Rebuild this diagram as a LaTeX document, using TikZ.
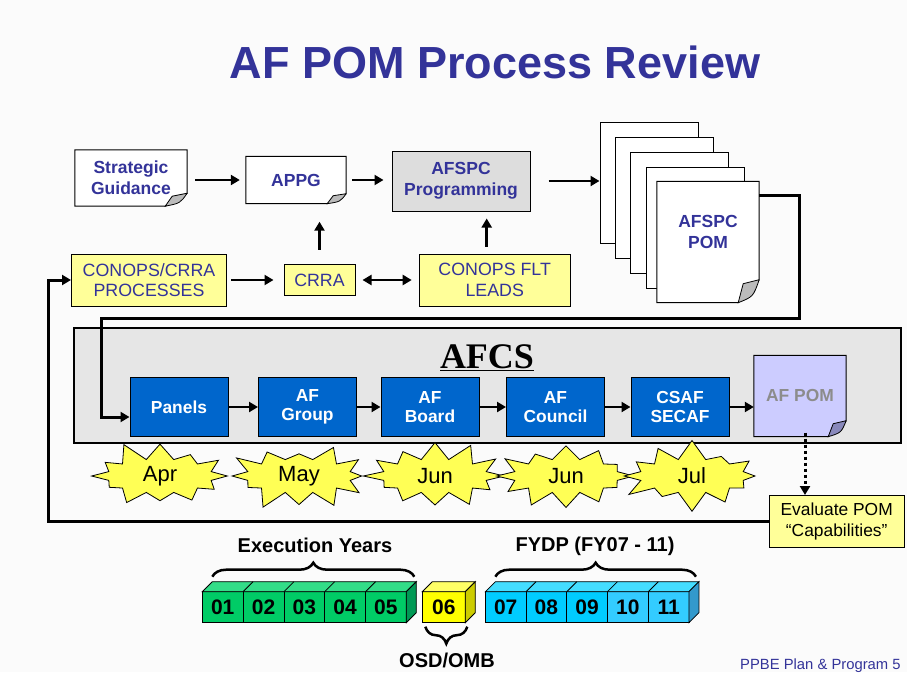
\documentclass[tikz,border=0pt]{standalone}
\usepackage{fontspec}
\setmainfont{Liberation Sans}
\newfontfamily\timesfont{Liberation Serif}
\usepackage{tikz}
\usetikzlibrary{arrows.meta,shapes.symbols,decorations.pathreplacing}
\definecolor{C333399}{HTML}{333399}
\definecolor{CFFFF99}{HTML}{FFFF99}
\definecolor{CDDDDDD}{HTML}{DDDDDD}
\definecolor{CE6E6E6}{HTML}{E6E6E6}
\definecolor{C0066CC}{HTML}{0066CC}
\definecolor{CCCCCFF}{HTML}{CCCCFF}
\definecolor{C8888BB}{HTML}{8888BB}
\definecolor{C8C8C8C}{HTML}{8C8C8C}
\definecolor{CBBBBBB}{HTML}{BBBBBB}
\definecolor{CFFFF55}{HTML}{FFFF55}
\definecolor{C00CC66}{HTML}{00CC66}
\definecolor{C33DD88}{HTML}{33DD88}
\definecolor{C009955}{HTML}{009955}
\definecolor{CFFFF00}{HTML}{FFFF00}
\definecolor{CFFFF66}{HTML}{FFFF66}
\definecolor{CCCCC00}{HTML}{CCCC00}
\definecolor{C00CCFF}{HTML}{00CCFF}
\definecolor{C33CCFF}{HTML}{33CCFF}
\definecolor{C44DDFF}{HTML}{44DDFF}
\definecolor{C3399CC}{HTML}{3399CC}
\definecolor{CFBFBFB}{HTML}{FBFBFB}
\pgfdeclarelayer{back}
\pgfdeclarelayer{mid}
\pgfsetlayers{back,mid,main}

\begin{document}
\begin{tikzpicture}[inner sep=0pt,>={Triangle[length=9pt,width=10pt]},
  box/.style={draw,line width=1pt,align=center},
  notetext/.style={align=center,text=C333399,font=\bfseries\fontsize{17.5}{21}\selectfont},
  yellowbox/.style={box,fill=CFFFF99,text=C333399,font=\fontsize{17.8}{20.5}\selectfont},
  panel/.style={box,fill=C0066CC,text=white,minimum width=98pt,minimum height=59pt,font=\bfseries\fontsize{17.4}{19}\selectfont},
  sheet/.style={draw,line width=1pt,fill=white,minimum width=98pt,minimum height=121pt},
  burst/.style={starburst,draw,line width=0.8pt,fill=CFFFF55,starburst points=12,starburst point height=20pt,minimum width=146pt,minimum height=74pt,font=\fontsize{22}{24}\selectfont},
  cube/.style={draw,line width=0.8pt,outer sep=0pt,minimum height=31pt,font=\bfseries\fontsize{21}{24}\selectfont},
  link/.style={->,line width=2.5pt},
  feedback/.style={->,line width=3pt},
  curly/.style={decorate,decoration={brace,amplitude=14pt},line width=2.5pt},
  yearlabel/.style={font=\bfseries\fontsize{20}{22}\selectfont}]
\useasboundingbox (0pt,0pt) rectangle (907pt,-672pt);
\begin{pgfonlayer}{back}
\fill [CFBFBFB] (0pt,0pt) rectangle (907pt,-672pt);
\node (n8) [at={(487pt,-385pt)}, draw, line width=2pt, fill=CE6E6E6, minimum width=827pt, minimum height=115pt] {};
\end{pgfonlayer}

\node (n0) [at={(495pt,-62pt)}, text=C333399, font=\bfseries\fontsize{45}{50}\selectfont] {AF POM Process Review};
\node (n1) [notetext, minimum width=112pt, minimum height=56pt, at={(131pt,-178pt)}] {Strategic\\Guidance};
\node (n2) [notetext, minimum width=100pt, minimum height=47pt, at={(296pt,-180pt)}] {APPG};
\node (n3) [box, notetext, fill=CDDDDDD, minimum width=138pt, minimum height=60pt, at={(461pt,-181pt)}] {AFSPC\\Programming};
\node (n4) [yellowbox, minimum width=155pt, minimum height=52pt, at={(149pt,-280pt)}] {CONOPS/CRRA\\PROCESSES};
\node (n5) [yellowbox, minimum width=71pt, minimum height=31.5pt, at={(319.5pt,-280pt)}] {CRRA};
\node (n6) [yellowbox, minimum width=151pt, minimum height=52pt, at={(494.7pt,-280pt)}] {CONOPS FLT\\LEADS};
\node (n7) [notetext, minimum width=102pt, minimum height=121pt, at={(708pt,-242pt)}] {AFSPC\\POM\\[-1pt]};

\node (n9) [at={(487pt,-358pt)}, font=\timesfont\bfseries\fontsize{36}{40}\selectfont] {\underline{AFCS}};
\node (n10) [panel, at={(179pt,-407pt)}] {Panels};
\node (n11) [panel, at={(307.5pt,-407pt)}] {AF\\Group};
\node (n12) [panel, at={(430pt,-407pt)}] {AF\\Board};
\node (n13) [panel, at={(555.5pt,-407pt)}] {AF\\Council};
\node (n14) [panel, at={(680pt,-407pt)}] {CSAF\\SECAF};
\node (n15) [align=center, text=C8C8C8C, font=\bfseries\fontsize{17.4}{19}\selectfont, minimum width=92pt, minimum height=81pt, at={(800pt,-396pt)}] {AF POM};

\node (n16) [burst, random starburst=11, at={(160pt,-476pt)}] {Apr};
\node (n17) [burst, random starburst=23, at={(299pt,-476pt)}] {May};
\node (n18) [burst, random starburst=37, at={(435pt,-476pt)}] {Jun};
\node (n19) [burst, random starburst=41, at={(566pt,-476pt)}] {Jun};
\node (n20) [burst, random starburst=53, at={(692pt,-476pt)}] {Jul};
\node (n21) [box, fill=CFFFF99, minimum width=135pt, minimum height=52pt, font=\fontsize{17.4}{20.5}\selectfont, at={(836.7pt,-521.5pt)}] {Evaluate POM\\“Capabilities”};

\node (n22) [cube, fill=C00CC66, minimum width=40.8pt, at={(222.7pt,-607.2pt)}] {01};
\node (n23) [cube, fill=C00CC66, minimum width=40.8pt, at={(263.5pt,-607.2pt)}] {02};
\node (n24) [cube, fill=C00CC66, minimum width=40.8pt, at={(304.3pt,-607.2pt)}] {03};
\node (n25) [cube, fill=C00CC66, minimum width=40.8pt, at={(345.1pt,-607.2pt)}] {04};
\node (n26) [cube, fill=C00CC66, minimum width=40.8pt, at={(385.9pt,-607.2pt)}] {05};
\node (n27) [cube, fill=CFFFF00, minimum width=43pt, at={(443.8pt,-607.2pt)}] {06};
\node (n28) [cube, fill=C00CCFF, minimum width=40.7pt, at={(505.7pt,-607.2pt)}] {07};
\node (n29) [cube, fill=C00CCFF, minimum width=40.7pt, at={(546.4pt,-607.2pt)}] {08};
\node (n30) [cube, fill=C00CCFF, minimum width=40.7pt, at={(587.1pt,-607.2pt)}] {09};
\node (n31) [cube, fill=C33CCFF, minimum width=40.7pt, at={(627.9pt,-607.2pt)}] {10};
\node (n32) [cube, fill=C33CCFF, minimum width=40.7pt, at={(668.6pt,-607.2pt)}] {11};

\node (n33) [yearlabel, at={(315pt,-545pt)}] {Execution Years};
\node (n34) [yearlabel, at={(595pt,-546pt)}] {FYDP (FY07 - 11)};
\node (n35) [yearlabel, at={(447pt,-660pt)}] {OSD/OMB};
\node (n36) [anchor=base west, text=C333399, font=\fontsize{14.8}{17}\selectfont, at={(740pt,-669pt)}] {PPBE Plan \& Program 5};

\begin{pgfonlayer}{mid}
\node (n37) [sheet, at={(649pt,-183pt)}] {};
\node (n38) [sheet, at={(664pt,-198pt)}] {};
\node (n39) [sheet, at={(679.5pt,-213pt)}] {};
\node (n40) [sheet, at={(695pt,-227.5pt)}] {};
\path [draw,fill=white,line width=1pt](n7.north west) -- (n7.north east) -- ([yshift=23pt]n7.south east) -- ([xshift=-21pt]n7.south east) -- (n7.south west) -- cycle;
\path [draw,fill=CBBBBBB,line width=0.8pt]([yshift=23pt]n7.south east) -- ([shift={(-16pt,19pt)}]n7.south east) -- ([xshift=-21pt]n7.south east) .. controls ([shift={(-6pt,6pt)}]n7.south east) .. ([yshift=23pt]n7.south east);
\path [draw,fill=white,line width=1pt](n1.north west) -- (n1.north east) -- ([yshift=13pt]n1.south east) -- ([xshift=-22pt]n1.south east) -- (n1.south west) -- cycle;
\path [draw,fill=CBBBBBB,line width=0.8pt]([yshift=13pt]n1.south east) -- ([shift={(-15pt,10pt)}]n1.south east) -- ([xshift=-22pt]n1.south east) .. controls ([shift={(-7pt,3pt)}]n1.south east) .. ([yshift=13pt]n1.south east);
\path [draw,fill=white,line width=1pt](n2.north west) -- (n2.north east) -- ([yshift=10pt]n2.south east) -- ([xshift=-19pt]n2.south east) -- (n2.south west) -- cycle;
\path [draw,fill=CBBBBBB,line width=0.8pt]([yshift=10pt]n2.south east) -- ([shift={(-13pt,8pt)}]n2.south east) -- ([xshift=-19pt]n2.south east) .. controls ([shift={(-6pt,2pt)}]n2.south east) .. ([yshift=10pt]n2.south east);
\path [draw,fill=CCCCCFF,line width=1pt](n15.north west) -- (n15.north east) -- ([yshift=16pt]n15.south east) -- ([xshift=-18pt]n15.south east) -- (n15.south west) -- cycle;
\path [draw,fill=C8888BB,line width=0.8pt]([yshift=16pt]n15.south east) -- ([shift={(-13pt,13pt)}]n15.south east) -- ([xshift=-18pt]n15.south east) .. controls ([shift={(-5pt,4pt)}]n15.south east) .. ([yshift=16pt]n15.south east);
\end{pgfonlayer}

\coordinate (c0) at (48pt,-521pt);
\coordinate (c1) at (799pt,-318pt);
\coordinate (c2) at (101pt,-318pt);

\path [link,draw,shorten <=8pt,shorten >=6pt](n1.east |- n2.west)--(n2.west);
\path [link,draw,shorten <=6pt,shorten >=8pt](n2.east)--(n2.east -| n3.west);
\path [link,draw,shorten <=18pt](n3.east)--(n3.east -| n37.west);
\path [link,draw,shorten <=4pt,shorten >=10pt](n4.east)--(n5.west);
\path [link,<->,draw,shorten <=7pt,shorten >=7pt](n5.east)--(n6.west);
\path [link,draw,shorten <=14pt,shorten >=18pt](n5.north)--(n5.north |- n2.south);
\path [link,draw,shorten <=7pt,shorten >=7pt]([xshift=-8pt]n6.north)--([xshift=-8pt]n6.north |- n3.south);

\path [link,draw](n10.east)--(n11.west);
\path [link,draw](n11.east)--(n12.west);
\path [link,draw](n12.east)--(n13.west);
\path [link,draw](n13.east)--(n14.west);
\path [link,draw](n14.east)--(n14.east -| n15.west);
\path [->,draw,line width=3pt,dash pattern=on 3pt off 3pt]([shift={(5pt,4pt)}]n15.south)--([xshift=5pt]n15.south |- n21.north);

\path [feedback,draw]([yshift=-14pt]n7.north east) -| (c1) -- (c2) |- ([yshift=-10pt]n10.west);
\path [feedback,draw](n21.west) -- (n21.west -| c0) |- (n4.west);

\path [draw,fill=C33DD88,line width=0.8pt](n22.north west) -- ++(10pt,10pt) -- ([shift={(10pt,10pt)}]n26.north east) -- (n26.north east) -- cycle;
\path [draw,line width=0.8pt](n22.north east) -- ++(10pt,10pt) (n23.north east) -- ++(10pt,10pt) (n24.north east) -- ++(10pt,10pt) (n25.north east) -- ++(10pt,10pt);
\path [draw,fill=C009955,line width=0.8pt](n26.north east) -- ++(10pt,10pt) -- ([shift={(10pt,10pt)}]n26.south east) -- (n26.south east) -- cycle;
\path [draw,fill=CFFFF66,line width=0.8pt](n27.north west) -- ++(10pt,10pt) -- ([shift={(10pt,10pt)}]n27.north east) -- (n27.north east) -- cycle;
\path [draw,fill=CCCCC00,line width=0.8pt](n27.north east) -- ++(10pt,10pt) -- ([shift={(10pt,10pt)}]n27.south east) -- (n27.south east) -- cycle;
\path [draw,fill=C44DDFF,line width=0.8pt](n28.north west) -- ++(10pt,10pt) -- ([shift={(10pt,10pt)}]n32.north east) -- (n32.north east) -- cycle;
\path [draw,line width=0.8pt](n28.north east) -- ++(10pt,10pt) (n29.north east) -- ++(10pt,10pt) (n30.north east) -- ++(10pt,10pt) (n31.north east) -- ++(10pt,10pt);
\path [draw,fill=C3399CC,line width=0.8pt](n32.north east) -- ++(10pt,10pt) -- ([shift={(10pt,10pt)}]n32.south east) -- (n32.south east) -- cycle;

\path [curly,draw]([shift={(10pt,15pt)}]n22.north west) -- ([shift={(8pt,15pt)}]n26.north east);
\path [curly,draw]([shift={(10pt,15pt)}]n28.north west) -- ([shift={(7pt,15pt)}]n32.north east);
\path [curly,draw,decoration={amplitude=17pt}]([shift={(2pt,-4pt)}]n27.south east) -- ([shift={(3pt,-4pt)}]n27.south west);
\end{tikzpicture}
\end{document}
